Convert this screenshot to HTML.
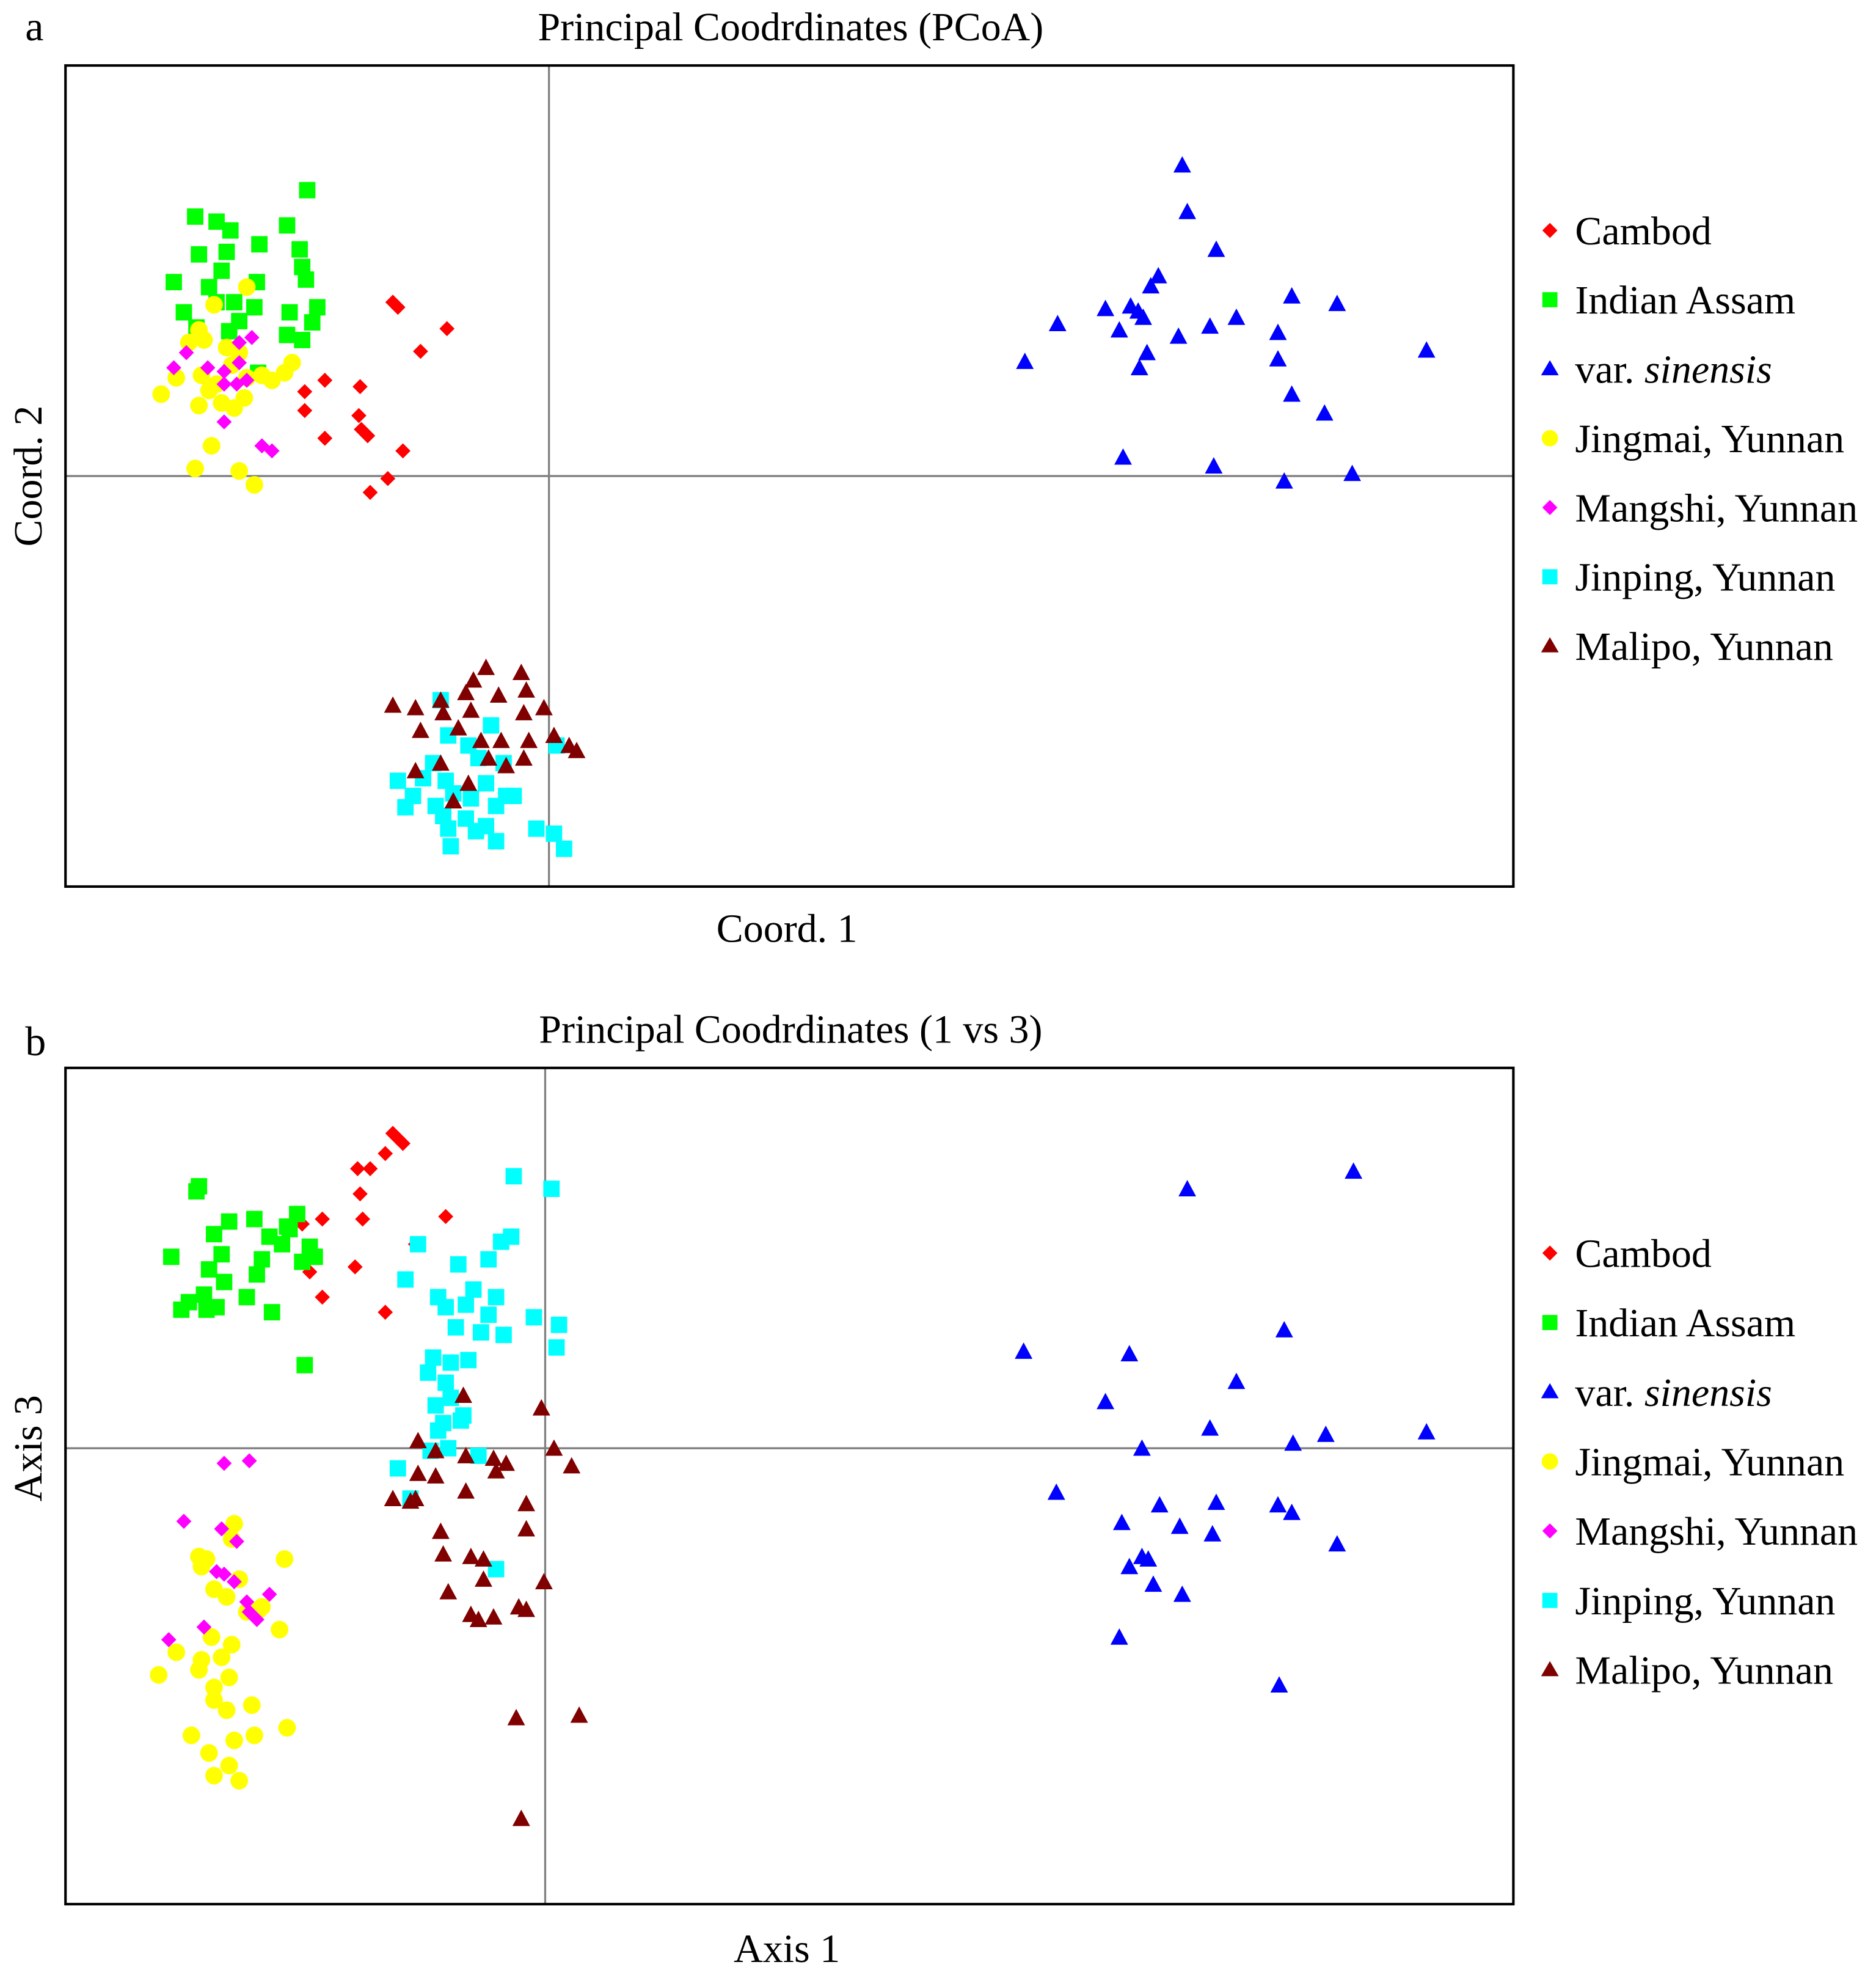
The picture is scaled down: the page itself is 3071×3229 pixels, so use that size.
<!DOCTYPE html>
<html><head><meta charset="utf-8"><style>
html,body{margin:0;padding:0;background:#fff}
svg{display:block}
text{font-family:"Liberation Serif",serif;fill:#000}
</style></head><body>
<svg id="fig" width="3071" height="3229" viewBox="0 0 1490 1566.7" xmlns="http://www.w3.org/2000/svg">
<text x="20" y="32" font-size="33">a</text>
<text x="628" y="32" font-size="32" text-anchor="middle">Principal Coodrdinates (PCoA)</text>
<text x="625" y="748" font-size="32" text-anchor="middle">Coord. 1</text>
<text x="0" y="0" font-size="32" text-anchor="middle" transform="translate(33,378) rotate(-90)">Coord. 2</text>
<text x="20" y="838" font-size="33">b</text>
<text x="628" y="828" font-size="32" text-anchor="middle">Principal Coodrdinates (1 vs 3)</text>
<text x="625" y="1558" font-size="32" text-anchor="middle">Axis 1</text>
<text x="0" y="0" font-size="32" text-anchor="middle" transform="translate(33,1150) rotate(-90)">Axis 3</text>
</svg>
<script>
const seriesNames = ["Cambod","Indian Assam","var. sinensis","Jingmai, Yunnan","Mangshi, Yunnan","Jinping, Yunnan","Malipo, Yunnan"];
const seriesColors = ["#ff0000","#00ff00","#0000ff","#ffff00","#ff00ff","#00ffff","#800000"];
const seriesShapes = ["diamond","square","triangle","circle","diamond","square","triangle"];

// Panel a (Coord.1 vs Coord.2), values ×100
const aCambodX=[-124,-120,-81,-102,-178,-194,-150,-194,-151,-149,-144,-178,-116,-128,-142];
const aCambodY=[138,134,117,99,76,67,71,52,48,37,32,30,20,-2,-13];
const aAssamX=[-192,-281,-264,-253,-208,-230,-278,-256,-198,-196,-260,-232,-298,-193,-270,-184,-290,-264,-250,-234,-188,-208,-196,-254,-280,-206,-246,-231];
const aAssamY=[227,206,202,195,199,184,176,178,180,166,163,154,154,156,150,134,130,138,138,134,122,112,108,115,118,130,123,82];
const aSinX=[503,507,530,484,478,404,442,462,468,453,472,500,525,546,590,626,579,697,378,475,469,579,590,616,456,528,584,638];
const aSinY=[247,210,180,159,151,121,133,135,131,116,126,111,119,126,143,137,114,100,91,98,86,93,65,50,15,8,-4,2];
const aJingX=[-266,-240,-278,-274,-286,-256,-246,-296,-276,-240,-220,-210,-204,-308,-270,-260,-250,-242,-264,-278,-268,-281,-246,-234,-228,-252];
const aJingY=[136,150,116,108,106,102,98,78,80,78,76,82,90,65,68,58,54,62,73,56,24,6,4,-7,80,88];
const aMangX=[-236,-246,-288,-298,-271,-258,-246,-258,-240,-258,-228,-220,-248];
const aMangY=[110,106,98,86,86,83,90,73,76,43,24,20,73];
const aJinpX=[-86,-46,-80,-64,6,-92,-56,-36,-120,-100,-82,-50,-34,-108,-76,-62,-90,-114,-42,-28,-66,-50,-80,-58,-10,4,-78,-42,12,-84];
const aJinpY=[-178,-198,-206,-214,-214,-228,-224,-228,-242,-240,-242,-244,-254,-254,-252,-256,-262,-263,-262,-254,-272,-278,-280,-282,-280,-284,-294,-290,-296,-270];
const aMaliX=[-50,-22,-60,-86,-66,-40,-18,-124,-106,-84,-62,-4,-20,-102,-72,-54,-38,-16,4,-86,-48,-34,22,16,-64,-76,-20,-106];
const aMaliY=[-152,-156,-162,-178,-172,-174,-170,-182,-184,-188,-186,-184,-188,-202,-200,-210,-210,-210,-206,-228,-224,-230,-218,-214,-244,-258,-224,-234];

// Panel b (Axis 1 vs Axis 3), values ×100
const bCambodX=[-117,-121,-113,-127,-149,-139,-147,-177,-145,-79,-193,-103,-151,-177,-127,-187];
const bCambodY=[246,250,242,234,222,222,202,182,182,184,178,162,144,120,108,140];
const bAssamX=[-275,-277,-231,-251,-197,-203,-263,-219,-209,-187,-297,-257,-193,-183,-267,-229,-255,-271,-237,-283,-289,-269,-217,-191,-261,-225,-205];
const bAssamY=[208,204,182,180,186,174,170,168,162,160,152,154,148,152,142,138,132,122,120,116,110,110,108,66,112,150,176];
const bSinX=[642,510,380,464,587,549,445,528,594,620,700,474,406,488,533,582,593,458,504,530,629,474,479,464,483,506,456,583];
const bSinY=[220,206,77,75,94,53,37,16,4,11,13,0,-35,-45,-43,-45,-51,-59,-62,-68,-76,-86,-88,-94,-108,-116,-150,-188];
const bJingX=[-247,-249,-275,-269,-207,-273,-243,-263,-253,-225,-237,-211,-265,-249,-293,-273,-257,-307,-275,-251,-263,-263,-233,-253,-205,-231,-247,-281,-267,-251,-263,-243,-227];
const bJingY=[-60,-72,-86,-88,-88,-94,-104,-112,-118,-126,-130,-144,-150,-156,-162,-168,-166,-180,-176,-182,-190,-200,-204,-208,-222,-228,-232,-228,-242,-252,-260,-264,-128];
const bMangX=[-255,-235,-287,-257,-245,-261,-255,-247,-219,-235,-229,-271,-299,-237];
const bMangY=[-12,-10,-58,-64,-74,-98,-100,-106,-116,-130,-136,-142,-152,-122];
const bJinpX=[-25,5,-27,-35,-101,-45,-111,-69,-85,-57,-39,-79,-63,-45,-9,11,-71,-51,-33,9,-89,-61,-75,-93,-79,-75,-87,-65,-81,-85,-77,-53,-91,-117,-107,-39,-67];
const bJinpY=[216,206,168,164,162,150,134,146,120,126,120,112,114,106,104,98,96,92,90,80,72,70,68,60,52,40,34,26,20,14,0,-6,-2,-16,-40,-96,22];
const bMaliX=[-65,-3,-101,7,-87,-63,-41,-31,21,-101,-87,-39,-63,-121,-15,-103,-15,-83,-81,-59,-49,-49,-1,-77,-21,-15,-59,-53,-41,-23,27,-19,-107];
const bMaliY=[42,32,6,0,-2,-6,-8,-12,-14,-20,-22,-18,-34,-40,-44,-40,-64,-66,-84,-86,-88,-104,-106,-114,-126,-128,-132,-136,-134,-214,-212,-294,-42];

const NS="http://www.w3.org/2000/svg";
const svg=document.getElementById('fig');
function mk(tag,attrs,parent){const e=document.createElementNS(NS,tag);for(const k in attrs)e.setAttribute(k,attrs[k]);(parent||svg).appendChild(e);return e;}

function marker(g,shape,cx,cy,color){
  let e;
  if(shape==='diamond'){e=mk('polygon',{points:`${cx},${cy-6} ${cx+6},${cy} ${cx},${cy+6} ${cx-6},${cy}`,fill:color},g);}
  else if(shape==='square'){e=mk('rect',{x:cx-6.5,y:cy-6.5,width:13,height:13,fill:color},g);}
  else if(shape==='triangle'){e=mk('polygon',{points:`${cx},${cy-7} ${cx+7},${cy+6} ${cx-7},${cy+6}`,fill:color},g);}
  else {e=mk('circle',{cx:cx,cy:cy,r:7,fill:color},g);}
  return e;
}

function drawPanel(id,box,xDom,yDom,xs,ys,legendY){
  const xS=v=>box.x0+(v-xDom[0])/(xDom[1]-xDom[0])*(box.x1-box.x0);
  const yS=v=>box.y1-(v-yDom[0])/(yDom[1]-yDom[0])*(box.y1-box.y0);
  const g=mk('g',{});
  
  
  const vx=mk('line',{x1:xS(0),x2:xS(0),y1:box.y0,y2:box.y1,stroke:'#808080','stroke-width':1.6},g);
  
  
  const hz=mk('line',{x1:box.x0,x2:box.x1,y1:yS(0),y2:yS(0),stroke:'#808080','stroke-width':1.6},g);
  
  
  for(let s=0;s<xs.length;s++){
    const sg=mk('g',{},g);
    
    
    for(let i=0;i<xs[s].length;i++){
      const m=marker(sg,seriesShapes[s],xS(xs[s][i]),yS(ys[s][i]),seriesColors[s]);
      
      
    }
  }
  const fr=mk('rect',{x:box.x0,y:box.y0,width:box.x1-box.x0,height:box.y1-box.y0,fill:'none',stroke:'#000','stroke-width':2},g);
  
  
  const lg=mk('g',{});
  
  
  for(let s=0;s<seriesNames.length;s++){
    const y=legendY[0]+s*(legendY[1]-legendY[0])/6;
    const eg=mk('g',{},lg);
    
    
    const sh=seriesShapes[s];
    if(sh==='circle'){mk('circle',{cx:1231,cy:y,r:6.5,fill:seriesColors[s]},eg);}
    else if(sh==='square'){mk('rect',{x:1225,y:y-6,width:12,height:12,fill:seriesColors[s]},eg);}
    else if(sh==='triangle'){mk('polygon',{points:`1231,${y-7} 1238,${y+5} 1224,${y+5}`,fill:seriesColors[s]},eg);}
    else {mk('polygon',{points:`1231,${y-6} 1237,${y} 1231,${y+6} 1225,${y}`,fill:seriesColors[s]},eg);}
    const t=mk('text',{x:1251,y:y+11,'font-size':32},eg);
    if(s===2){t.appendChild(document.createTextNode('var. '));const it=mk('tspan',{'font-style':'italic'},t);it.textContent='sinensis';}
    else t.textContent=seriesNames[s];
  }
}

drawPanel('a',{x0:52,x1:1202,y0:52,y1:704},[-384,766],[-326,326],
  [aCambodX,aAssamX,aSinX,aJingX,aMangX,aJinpX,aMaliX],
  [aCambodY,aAssamY,aSinY,aJingY,aMangY,aJinpY,aMaliY],[183,513]);
drawPanel('b',{x0:52,x1:1202,y0:848,y1:1512},[-381,769],[-362,302],
  [bCambodX,bAssamX,bSinX,bJingX,bMangX,bJinpX,bMaliX],
  [bCambodY,bAssamY,bSinY,bJingY,bMangY,bJinpY,bMaliY],[995,1326]);
</script>
</body></html>
